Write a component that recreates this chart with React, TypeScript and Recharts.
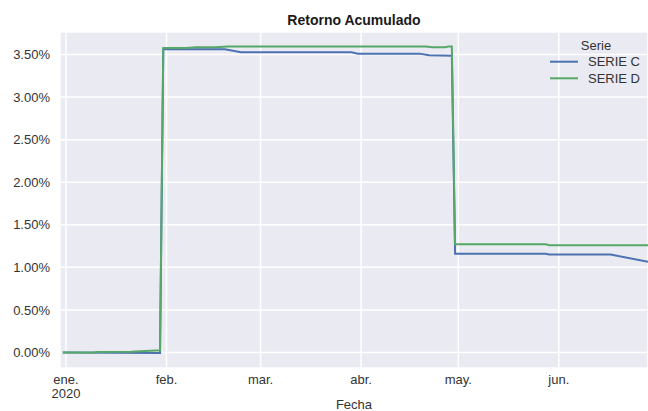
import React from 'react';
import { LineChart, Line, XAxis, YAxis, CartesianGrid, Legend } from 'recharts';

// Days since 1 Jan 2020
const dayC = [-1, 29, 30, 49, 54, 88, 90, 109, 112, 119, 120, 148, 149, 168, 179.5];
const retC = [0.0, -0.005, 3.56, 3.56, 3.525, 3.525, 3.51, 3.51, 3.49, 3.485, 1.16, 1.16, 1.15, 1.15, 1.065];

const dayD = [-1, 8, 10, 20, 26, 29, 30, 37, 40, 46, 50, 111, 113, 117, 118, 119, 120, 148, 149, 179.5];
const retD = [0.0, 0.0, 0.005, 0.01, 0.02, 0.025, 3.575, 3.575, 3.585, 3.585, 3.595, 3.595, 3.585, 3.585, 3.595, 3.595, 1.27, 1.27, 1.26, 1.26];

const xTicks = [0, 31, 60, 91, 121, 152];
const xTickLabels = ['ene.', 'feb.', 'mar.', 'abr.', 'may.', 'jun.'];
const yTicks = [0, 0.5, 1, 1.5, 2, 2.5, 3, 3.5];

const dataC = dayC.map((d, i) => ({ day: d, value: retC[i] }));
const dataD = dayD.map((d, i) => ({ day: d, value: retD[i] }));

const FONT = '"Liberation Sans", Arial, sans-serif';
const TEXT = '#333333';
const BLUE = '#4C72B0';
const GREEN = '#55A868';

const XTick = (props: any) => {
  const { x, y, payload } = props;
  const idx = xTicks.indexOf(payload.value);
  const label = idx >= 0 ? xTickLabels[idx] : '';
  return (
    <text x={x} y={y} textAnchor="middle" fontSize={13} fill={TEXT} fontFamily={FONT}>
      <tspan x={x} dy={16}>{label}</tspan>
      {idx === 0 ? <tspan x={x} dy={14}>2020</tspan> : null}
    </text>
  );
};

const renderLegend = (props: any) => {
  const payload = props.payload || [];
  return (
    <svg width={100} height={50} style={{ display: 'block' }}>
      <text x={51} y={12} textAnchor="middle" fontSize={13} fill={TEXT} fontFamily={FONT}>Serie</text>
      {payload.map((entry: any, i: number) => (
        <g key={i}>
          <line x1={5} x2={33} y1={23.7 + i * 16.6} y2={23.7 + i * 16.6} stroke={entry.color} strokeWidth={2} />
          <text x={43} y={28 + i * 16.6} fontSize={13} fill={TEXT} fontFamily={FONT}>{entry.value}</text>
        </g>
      ))}
    </svg>
  );
};

export default function App() {
  return (
    <div style={{ position: 'fixed', left: 0, top: 0, width: 648, height: 411, overflow: 'hidden', background: '#fff' }}>
      <svg width={648} height={32} style={{ position: 'absolute', left: 0, top: 0 }}>
        <text x={354} y={25} textAnchor="middle" fontSize={14} fontWeight="bold" fill="#1a1a1a" fontFamily={FONT}>
          Retorno Acumulado
        </text>
      </svg>
      <div style={{ position: 'absolute', left: 0, top: 0 }}>
        <LineChart width={648} height={430} margin={{ top: 32, right: 0, left: 0, bottom: 0 }}>
          <CartesianGrid fill="#EAEAF2" stroke="#ffffff" strokeWidth={1.5} />
          <XAxis
            dataKey="day"
            type="number"
            domain={[-1.85, 179.5]}
            allowDataOverflow
            ticks={xTicks}
            tick={<XTick />}
            tickSize={0}
            tickMargin={0}
            axisLine={false}
            tickLine={false}
            height={62}
            interval={0}
            label={{ value: 'Fecha', position: 'insideTop', offset: 32, fill: TEXT, fontSize: 13, fontFamily: FONT }}
          />
          <YAxis
            type="number"
            domain={[-0.182, 3.764]}
            allowDataOverflow
            ticks={yTicks}
            tickFormatter={(v: number) => v.toFixed(2) + '%'}
            tick={{ fill: TEXT, fontSize: 13, fontFamily: FONT }}
            tickSize={0}
            tickMargin={10}
            axisLine={false}
            tickLine={false}
            width={60}
            interval={0}
          />
          <Legend
            layout="horizontal"
            verticalAlign="middle"
            align="center"
            content={renderLegend}
            wrapperStyle={{ position: 'absolute', left: 545, top: 38, width: 100, height: 50 }}
          />
          <Line data={dataC} dataKey="value" name="SERIE C" type="linear" stroke={BLUE} strokeWidth={2} dot={false} isAnimationActive={false} />
          <Line data={dataD} dataKey="value" name="SERIE D" type="linear" stroke={GREEN} strokeWidth={2} dot={false} isAnimationActive={false} />
        </LineChart>
      </div>
    </div>
  );
}
